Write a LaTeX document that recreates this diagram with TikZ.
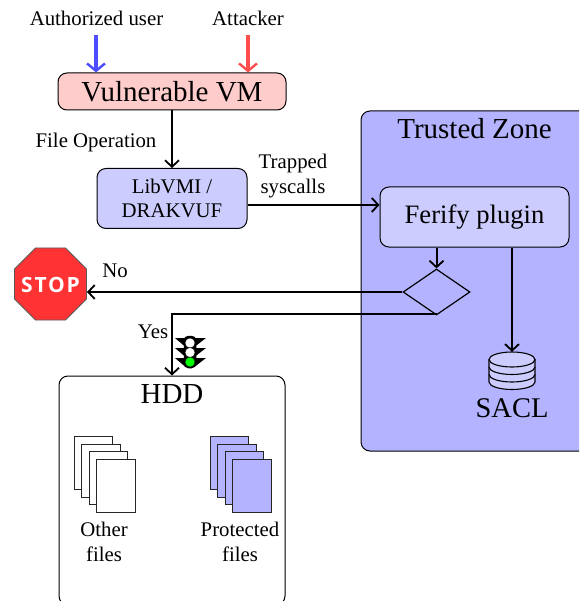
\documentclass[tikz,border=0pt]{standalone}
\usepackage{fontspec}
\setmainfont{Liberation Serif}
\newfontfamily\stopfont[LetterSpace=9]{Open Sans}
\usetikzlibrary{shapes.geometric,arrows.meta}
\definecolor{lblue}{HTML}{CCCCFF}
\definecolor{mblue}{HTML}{B3B3FF}
\definecolor{lred}{HTML}{FFCCCC}
\definecolor{ablue}{HTML}{4D4DFF}
\definecolor{ared}{HTML}{FF4D4D}
\definecolor{stopred}{HTML}{FF3333}
\tikzset{
  box/.style={draw=black,line width=1pt,rounded corners=9pt,inner sep=0pt,align=center},
  lbl/.style={inner sep=0pt,align=center,font=\fontsize{20.8}{25}\selectfont},
  big/.style={inner sep=0pt,font=\fontsize{29}{32}\selectfont},
  arr/.style={-{Straight Barb[length=6.5pt,width=14pt,line width=1.8pt]},line width=2pt,black},
  fat/.style={-{Straight Barb[length=7.5pt,width=18pt,line width=2.4pt]},line width=3.4pt},
  sheet/.style={draw=black!85,line width=1pt},
  wing/.style={fill=black,draw=none},
}
\begin{document}
\begin{tikzpicture}[x=1pt,y=-1pt]
\path[use as bounding box,clip] (0,0) rectangle (579,601);
% zones
\node[box,fill=mblue,minimum width=230pt,minimum height=340pt] (tz) at (476,281) {};
\node[big] (tzl) at (474.5,129) {Trusted Zone};
\node[box,fill=white,minimum width=226pt,minimum height=229pt] (hdd) at (172,490.5) {};
\node[big] (hddl) at (172,394) {HDD};
% main boxes
\node[box,fill=lred,minimum width=228pt,minimum height=37pt,font=\fontsize{29}{32}\selectfont] (vm) at (172,91.5) {Vulnerable VM};
\node[box,fill=lblue,minimum width=150pt,minimum height=60pt,font=\fontsize{20.8}{24.5}\selectfont] (lib) at (172,198.5) {LibVMI /\\DRAKVUF};
\node[box,fill=lblue,minimum width=189pt,minimum height=60pt,font=\fontsize{26.6}{30}\selectfont] (fer) at (474.5,217) {\raisebox{-2.5pt}{Ferify plugin}};
\node[draw=black,line width=1.2pt,diamond,aspect=1.4565,inner sep=0pt,minimum width=67pt,minimum height=46pt] (dec) at (436.5,292) {};
\node[regular polygon,regular polygon sides=8,draw=black!65,line width=0.9pt,fill=stopred,minimum size=78pt,inner sep=0pt] (stop) at (50.5,284) {};
\node[inner sep=0pt,text=white,font=\fontsize{21}{26}\stopfont\bfseries] (stopl) at (50.5,284.5) {STOP};
% labels
\node[lbl] (au) at (96.5,18.5) {Authorized user};
\node[lbl] (at) at (248,18.5) {Attacker};
\node[lbl] (fo) at (96,142.5) {File Operation};
\node[lbl] (ts) at (293,176) {Trapped\\syscalls};
\node[lbl] (no) at (115,271) {No};
\node[lbl] (yes) at (153,331.5) {Yes};
\node[lbl] (of) at (104,541.5) {Other\\files};
\node[lbl] (pf) at (240,541.5) {Protected\\files};
% database
\node[inner sep=0pt,minimum width=46pt,minimum height=38pt] (db) at (512,371) {};
\begin{scope}[draw=black,line width=1.1pt,fill=lblue]
\filldraw[fill=lblue] (489,382) arc[start angle=180,end angle=360,x radius=23,y radius=-7.5] -- (535,360) -- (489,360) -- cycle;
\draw (489,367) arc[start angle=180,end angle=360,x radius=23,y radius=-7.5];
\draw (489,374.5) arc[start angle=180,end angle=360,x radius=23,y radius=-7.5];
\filldraw[fill=lblue] (512,359.5) ellipse[x radius=23,y radius=7.5];
\end{scope}
\node[inner sep=0pt,font=\fontsize{28.5}{32}\selectfont] (sacl) at (512,408) {SACL};
% sheets
\foreach \n/\x/\y in {1/73.5/436,2/81/443.5,3/88.5/451,4/96/458.5}{
  \node[sheet,fill=white,minimum width=38.5pt,minimum height=53pt,inner sep=0pt,anchor=north west] (o\n) at (\x,\y) {};
}
\foreach \n/\x/\y in {1/209.5/436,2/217/443.5,3/224.5/451,4/232/458.5}{
  \node[sheet,fill=mblue,minimum width=38.5pt,minimum height=53pt,inner sep=0pt,anchor=north west] (p\n) at (\x,\y) {};
}
% traffic light
\foreach \y in {338,348,358}{
  \fill[wing] (175,\y) -- (185,\y) -- (185,\y+8.5) -- cycle;
  \fill[wing] (206,\y) -- (195,\y) -- (195,\y+8.5) -- cycle;
}
\node[fill=black,rounded corners=4.5pt,minimum width=12.5pt,minimum height=32.5pt,inner sep=0pt] (tl) at (190,352) {};
\node[circle,draw=black,line width=0.4pt,fill=white,minimum size=10pt,inner sep=0pt] (t1) at (190,343) {};
\node[circle,draw=black,line width=0.4pt,fill=white,minimum size=10pt,inner sep=0pt] (t2) at (190,352.5) {};
\node[circle,draw=black,line width=0.4pt,fill=green,minimum size=10pt,inner sep=0pt] (t3) at (190,362) {};
% connectors
\coordinate (ustart) at (96,35);
\coordinate (astart) at (248,35);
\coordinate (trap) at (300,205);
\coordinate (lowy) at (300,314);
\draw[fat,ablue] (ustart) -- (ustart |- vm.north);
\draw[fat,ared] (astart) -- (astart |- vm.north);
\draw[arr] (vm) -- (lib);
\draw[arr] (lib.east |- trap) -- (fer.west |- trap);
\draw[arr] (dec.north |- fer.south) -- (dec.north);
\draw[arr] (db.north |- fer.south) -- (db.north);
\draw[arr] (dec.west) -- (stop.east |- dec.west);
\draw[arr] (dec.south |- lowy) -| (hdd.north);
\end{tikzpicture}
\end{document}
